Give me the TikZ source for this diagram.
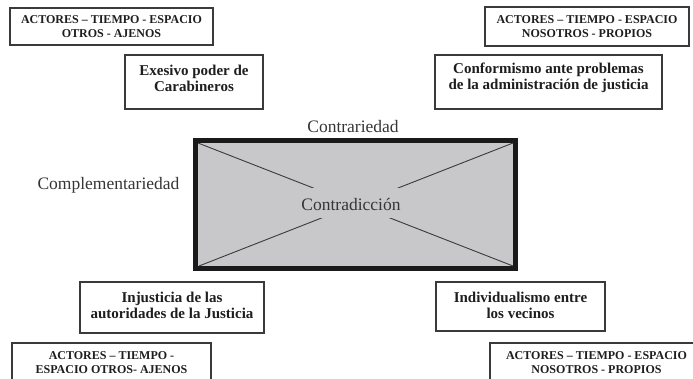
\documentclass[tikz,border=0pt]{standalone}
\usepackage{fontspec}
\setmainfont{Liberation Serif}
\definecolor{edge}{HTML}{3A3A3A}
\definecolor{ink}{HTML}{1E1E1E}
\definecolor{fillg}{HTML}{C8C8CA}
\definecolor{frame}{HTML}{1A1A1A}
\begin{document}
\begin{tikzpicture}[x=1pt,y=-1pt,
  box/.style={draw=edge, line width=1.1pt, inner sep=0pt, fill=white},
  actxt/.style={font=\bfseries\fontsize{12}{14}\selectfont, text=ink, align=center, inner sep=0pt},
  contxt/.style={font=\bfseries\fontsize{15}{16}\selectfont, text=ink, align=center, inner sep=0pt},
  lbl/.style={font=\fontsize{17.5}{19}\selectfont, text=ink!90, inner sep=0pt},
  diag/.style={draw=edge, line width=0.9pt}]
\path[use as bounding box] (0,0) rectangle (693,379);
\clip (0,0) rectangle (693,379);
% central rectangle
\node[draw=frame, line width=5.5pt, fill=fillg, minimum width=320pt, minimum height=128pt, inner sep=0pt] (main) at (355.5,204.5) {};
\coordinate (tl) at (198,143);
\coordinate (tr) at (513,143);
\coordinate (bl) at (199,266);
\coordinate (br) at (513,266);
\draw[diag] (tl) -- (br);
\draw[diag] (tr) -- (bl);
\node[fill=fillg, minimum width=92pt, minimum height=30pt, inner sep=0pt] (mask) at (357,203.5) {};
\node[lbl] (contra) at (351,205) {Contradicción};
\node[lbl] (contr) at (353,127) {Contrariedad};
\node[lbl] (compl) at (108.5,185) {Complementariedad};
% boxes
\node[box, minimum width=203pt, minimum height=37pt] (a1) at (111.5,26.5) {};
\node[actxt] (a1t) at (111.5,26.5) {ACTORES – TIEMPO - ESPACIO\\OTROS - AJENOS};
\node[box, minimum width=204pt, minimum height=39pt] (a2) at (587,26.5) {};
\node[actxt] (a2t) at (587,26.5) {ACTORES – TIEMPO - ESPACIO\\NOSOTROS - PROPIOS};
\node[box, minimum width=138pt, minimum height=54pt] (e) at (194,82) {};
\node[contxt] (et) at (194,78) {Exesivo poder de\\Carabineros};
\node[box, minimum width=227pt, minimum height=54pt] (c) at (548.5,82) {};
\node[contxt] (ct) at (548.5,78) {Conformismo ante problemas\\de la administración de justicia};
\node[box, minimum width=184pt, minimum height=51pt] (i) at (172,307.5) {};
\node[contxt] (it) at (172,305) {Injusticia de las\\autoridades de la Justicia};
\node[box, minimum width=169pt, minimum height=49pt] (v) at (520.5,306.5) {};
\node[contxt] (vt) at (520.5,305) {Individualismo entre\\los vecinos};
\node[box, minimum width=199pt, minimum height=38pt] (a3) at (111.5,362) {};
\node[actxt] (a3t) at (111.5,363) {ACTORES – TIEMPO -\\ESPACIO OTROS- AJENOS};
\node[box, minimum width=214pt, minimum height=38pt] (a4) at (597,362) {};
\node[actxt] (a4t) at (596.5,363) {ACTORES – TIEMPO - ESPACIO\\NOSOTROS - PROPIOS};
\end{tikzpicture}
\end{document}
